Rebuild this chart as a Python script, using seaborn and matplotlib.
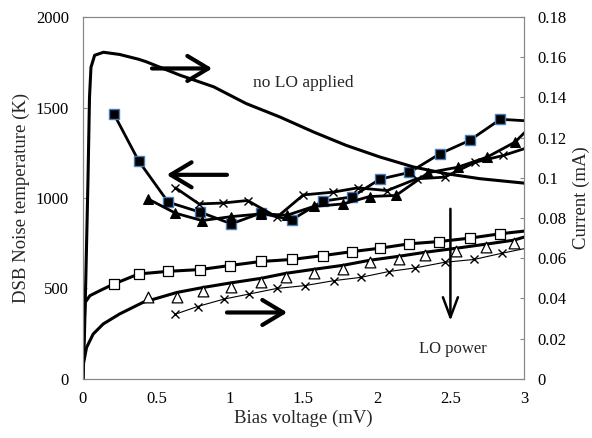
import matplotlib
matplotlib.use('Agg')
import matplotlib.pyplot as plt
import seaborn as sns

# noise temperature (K), left axis
nt_sq_x = [0.21, 0.38, 0.58, 0.80, 1.01, 1.21, 1.42, 1.63, 1.83, 2.02, 2.22, 2.43, 2.63, 2.84, 3.05]
nt_sq_y = [1466, 1204, 977, 921, 857, 916, 879, 982, 1006, 1104, 1141, 1245, 1318, 1435, 1425]
nt_tri_x = [0.44, 0.63, 0.81, 1.01, 1.21, 1.39, 1.57, 1.77, 1.95, 2.13, 2.35, 2.55, 2.75, 2.94, 3.1]
nt_tri_y = [996, 916, 875, 897, 912, 905, 953, 967, 1008, 1014, 1140, 1170, 1226, 1309, 1440]
nt_x_x = [0.63, 0.79, 0.95, 1.12, 1.32, 1.50, 1.70, 1.87, 2.07, 2.27, 2.46, 2.67, 2.86, 3.05]
nt_x_y = [1056, 967, 972, 986, 894, 1017, 1032, 1056, 1041, 1106, 1115, 1198, 1235, 1285]

# current (mA), right axis
iv_nolo_x = [0, 0.01, 0.02, 0.035, 0.045, 0.055, 0.08, 0.14, 0.25, 0.38, 0.43, 0.66, 0.89,
             1.11, 1.34, 1.57, 1.79, 2.02, 2.25, 2.47, 2.70, 3.0]
iv_nolo_y = [0, 0.02, 0.05, 0.10, 0.14, 0.155, 0.161, 0.1625, 0.1614, 0.159, 0.1578, 0.1511, 0.1453,
             0.137, 0.1303, 0.1228, 0.1162, 0.1104, 0.1054, 0.1021, 0.0996, 0.0974]

iv_a_x = [0, 0.005, 0.015, 0.048, 0.116, 0.21, 0.38, 0.58, 0.80, 1.00, 1.21, 1.42, 1.63, 1.83,
          2.02, 2.22, 2.42, 2.63, 2.84, 3.0]
iv_a_y = [0, 0.02, 0.038, 0.0414, 0.0439, 0.0472, 0.0522, 0.0535, 0.0544, 0.0564, 0.0584, 0.0594,
          0.0613, 0.0633, 0.065, 0.0672, 0.0683, 0.07, 0.0722, 0.0735]
sq_x = [0.21, 0.38, 0.58, 0.80, 1.00, 1.21, 1.42, 1.63, 1.83, 2.02, 2.22, 2.42, 2.63, 2.84]
sq_y = [0.0472, 0.0522, 0.0535, 0.0544, 0.0564, 0.0584, 0.0594, 0.0613, 0.0633, 0.065, 0.0672,
        0.0683, 0.07, 0.0722]

iv_b_x = [0, 0.005, 0.025, 0.07, 0.138, 0.25, 0.41, 0.64, 0.82, 1.01, 1.21, 1.38, 1.57, 1.77,
          1.95, 2.15, 2.33, 2.54, 2.74, 2.93, 3.0]
iv_b_y = [0, 0.008, 0.0156, 0.0223, 0.0273, 0.0323, 0.0381, 0.043, 0.0455, 0.0478, 0.050, 0.0525,
          0.0545, 0.0565, 0.059, 0.061, 0.063, 0.065, 0.067, 0.069, 0.0705]
tri_x = [0.44, 0.64, 0.82, 1.01, 1.21, 1.38, 1.57, 1.77, 1.95, 2.15, 2.33, 2.54, 2.74, 2.93]
tri_y = [0.0406, 0.0406, 0.0439, 0.0459, 0.048, 0.0509, 0.0525, 0.0547, 0.058, 0.0597, 0.0618,
         0.0638, 0.0655, 0.0677]

iv_c_x = [0.63, 0.78, 0.96, 1.13, 1.32, 1.51, 1.71, 1.89, 2.08, 2.26, 2.46, 2.66, 2.85, 3.05]
iv_c_y = [0.0322, 0.036, 0.0397, 0.0422, 0.045, 0.0464, 0.0489, 0.0505, 0.0534, 0.0552, 0.058,
          0.0594, 0.0625, 0.0655]

sns.set_theme(style='white')
plt.rcParams['font.family'] = ['Liberation Serif', 'DejaVu Serif']

fig = plt.figure(figsize=(5.92, 4.38), dpi=100)
ax = fig.add_axes([0.140, 0.135, 0.745, 0.826])
ax2 = ax.twinx()

# noise curves
sns.lineplot(x=nt_sq_x, y=nt_sq_y, ax=ax, color='black', lw=2, sort=False, estimator=None,
             marker='s', markersize=6.5, markerfacecolor='black', markeredgecolor='#4A7EBB',
             markeredgewidth=1)
sns.lineplot(x=nt_tri_x, y=nt_tri_y, ax=ax, color='black', lw=2, sort=False, estimator=None,
             marker='^', markersize=7, markerfacecolor='black', markeredgecolor='black')
sns.lineplot(x=nt_x_x, y=nt_x_y, ax=ax, color='black', lw=2, sort=False, estimator=None,
             marker='x', markersize=6, markeredgecolor='black', markeredgewidth=1)

# I-V curves
sns.lineplot(x=iv_nolo_x, y=iv_nolo_y, ax=ax2, color='black', lw=2.2, sort=False, estimator=None)
sns.lineplot(x=iv_a_x, y=iv_a_y, ax=ax2, color='black', lw=2.2, sort=False, estimator=None)
sns.scatterplot(x=sq_x, y=sq_y, ax=ax2, marker='s', s=50, facecolor='white',
                edgecolor='black', linewidth=0.9, zorder=3)
sns.lineplot(x=iv_b_x, y=iv_b_y, ax=ax2, color='black', lw=2.2, sort=False, estimator=None)
sns.scatterplot(x=tri_x, y=tri_y, ax=ax2, marker='^', s=60, facecolor='white',
                edgecolor='black', linewidth=0.9, zorder=3)
sns.lineplot(x=iv_c_x, y=iv_c_y, ax=ax2, color='black', lw=0.8, sort=False, estimator=None,
             marker='x', markersize=6, markeredgecolor='black', markeredgewidth=1)

ax.set_xlim(0, 3)
ax.set_ylim(0, 2000)
ax2.set_ylim(0, 0.18)
ax.set_xticks([0, 0.5, 1, 1.5, 2, 2.5, 3])
ax.set_xticklabels(['0', '0.5', '1', '1.5', '2', '2.5', '3'])
ax.set_yticks([0, 500, 1000, 1500, 2000])
ax2.set_yticks([0, 0.02, 0.04, 0.06, 0.08, 0.1, 0.12, 0.14, 0.16, 0.18])
ax2.set_yticklabels(['0', '0.02', '0.04', '0.06', '0.08', '0.1', '0.12', '0.14', '0.16', '0.18'])

for a in (ax, ax2):
    for s in a.spines.values():
        s.set_color('#888888')
        s.set_linewidth(0.8)
    a.tick_params(direction='in', length=3, width=0.8, color='#888888', labelsize=12,
                  labelcolor='black', pad=10)
    a.grid(False)
ax.tick_params(axis='x', pad=9)

ax.set_xlabel('Bias voltage (mV)', fontsize=13.5, labelpad=2)
ax.set_ylabel('DSB Noise temperature (K)', fontsize=13.5, labelpad=4)
ax2.set_ylabel('Current (mA)', fontsize=13.5, labelpad=4)

# arrows (left axis units)
big = dict(arrowstyle='->, head_length=0.75, head_width=0.45', lw=3, color='black',
           mutation_scale=20, shrinkA=0, shrinkB=0)
ax.annotate('', xy=(0.88, 1716), xytext=(0.47, 1716), arrowprops=big)
ax.annotate('', xy=(0.57, 1128), xytext=(0.98, 1128), arrowprops=big)
ax.annotate('', xy=(1.39, 367), xytext=(0.98, 367), arrowprops=big)
ax.annotate('', xy=(2.50, 321), xytext=(2.50, 940),
            arrowprops=dict(arrowstyle='->, head_length=0.8, head_width=0.3', lw=1.8,
                            color='black', mutation_scale=18, shrinkA=0, shrinkB=0))

ax.text(1.50, 1634, 'no LO applied', ha='center', va='center', fontsize=12.5)
ax.text(2.52, 166, 'LO power', ha='center', va='center', fontsize=12)

fig.savefig('out.png', dpi=100)
